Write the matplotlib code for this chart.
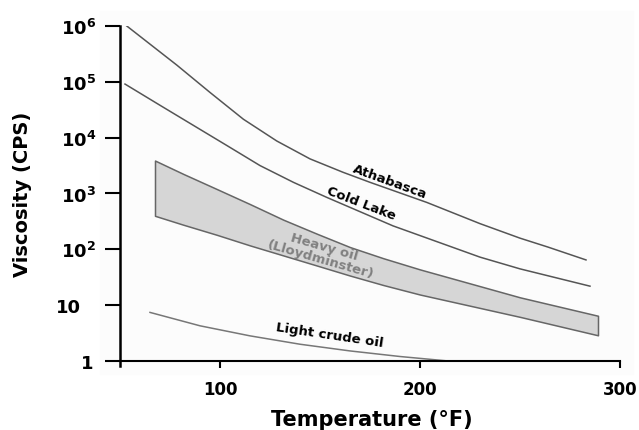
import numpy as np
import matplotlib.pyplot as plt
import matplotlib.transforms as mtransforms
from matplotlib.patches import Rectangle
from matplotlib.ticker import NullLocator

# values (temperature in F, log10 of viscosity in cP)
t_athabasca = [53.4, 78.4, 95, 111.7, 128.4, 145, 161.5, 175, 203.4, 230, 250, 264, 283]
log_athabasca = [6.0, 5.3, 4.81, 4.33, 3.94, 3.62, 3.38, 3.2, 2.84, 2.46, 2.2, 2.04, 1.81]

t_coldlake = [52.5, 70, 86.7, 103.4, 120, 136.7, 153.4, 186.5, 230, 250, 285]
log_coldlake = [4.96, 4.58, 4.22, 3.86, 3.5, 3.2, 2.93, 2.42, 1.86, 1.65, 1.34]

t_heavy = [67.5, 81.7, 98.4, 115, 131.7, 148.4, 165, 181.7, 200, 250, 289]
log_heavy_top = [3.59, 3.35, 3.08, 2.81, 2.53, 2.28, 2.04, 1.84, 1.64, 1.14, 0.81]
log_heavy_bot = [2.6, 2.44, 2.26, 2.07, 1.89, 1.71, 1.53, 1.36, 1.19, 0.79, 0.46]

t_light = [65, 90, 115, 140, 165, 190, 214]
log_light = [0.87, 0.63, 0.45, 0.3, 0.18, 0.08, 0.0]

ytick_vals = [1, 10, 1e2, 1e3, 1e4, 1e5, 1e6]
ytick_labels = ['1', '10', r'$\mathbf{10^2}$', r'$\mathbf{10^3}$', r'$\mathbf{10^4}$',
                r'$\mathbf{10^5}$', r'$\mathbf{10^6}$']
xtick_vals = [100, 200, 300]

plt.rcParams['font.family'] = 'DejaVu Sans'
plt.rcParams['mathtext.fontset'] = 'dejavusans'

fig = plt.figure(figsize=(6.39, 4.31), dpi=100)
ax = fig.add_axes([120/639, 64/431, 500/639, 340/431])
ax.patch.set_alpha(0)
# faint backdrop behind the plot area
bg = Rectangle((100/639, 1-375/431), 533/639, 363/431, transform=fig.transFigure,
               color='#fcfcfc', zorder=-10)
fig.patches.append(bg)
ax.set_zorder(1)

line_col = '#555555'
ax.plot(t_athabasca, 10**np.array(log_athabasca), color=line_col, lw=1.1)
ax.plot(t_coldlake, 10**np.array(log_coldlake), color=line_col, lw=1.1)
ax.fill_between(t_heavy, 10**np.array(log_heavy_bot), 10**np.array(log_heavy_top),
                facecolor='#d6d6d6', edgecolor='#666666', lw=1.1)
ax.plot(t_light, 10**np.array(log_light), color='#777777', lw=1.1)

ax.set_yscale('log')
ax.set_xlim(50, 300)
ax.set_ylim(10**-0.09, 1e6)
ax.yaxis.set_minor_locator(NullLocator())
ax.set_yticks(ytick_vals)
ax.set_yticklabels(ytick_labels)
ax.set_xticks(xtick_vals)

ax.spines['top'].set_visible(False)
ax.spines['right'].set_visible(False)
ax.spines['bottom'].set_position(('data', 1))
ax.spines['left'].set_linewidth(1.8)
ax.spines['bottom'].set_linewidth(1.5)

ax.tick_params(axis='y', length=11, width=1.5, pad=6, labelsize=13)
ax.tick_params(axis='x', length=5, width=1.5, pad=9, labelsize=12)
for lab in ax.get_xticklabels() + ax.get_yticklabels():
    lab.set_fontweight('bold')

# the "10" and "1" labels sit further left in the original
shifts = {'10': -15, '1': -3}
for lab in ax.get_yticklabels():
    dx = shifts.get(lab.get_text())
    if dx:
        lab.set_transform(lab.get_transform() +
                          mtransforms.ScaledTranslation(dx/100, 0, fig.dpi_scale_trans))

fig.text(372/639, 1-420/431, 'Temperature (°F)', fontsize=15, fontweight='bold',
         ha='center', va='center')
fig.text(23/639, 1-194/431, 'Viscosity (CPS)', rotation=90, fontsize=14,
         fontweight='bold', ha='center', va='center')

ax.text(185, 10**3.23, 'Athabasca', rotation=-20, fontsize=9.5, fontweight='bold',
        ha='center', va='center')
ax.text(170.5, 10**2.83, 'Cold Lake', rotation=-21, fontsize=9.5, fontweight='bold',
        ha='center', va='center')
ax.text(151, 10**1.94, 'Heavy oil\n(Lloydminster)', rotation=-16, fontsize=9.5,
        fontweight='bold', color='#808080', ha='center', va='center',
        linespacing=0.95, multialignment='center')
ax.text(154.75, 10**0.47, 'Light crude oil', rotation=-8.5, fontsize=9.5,
        fontweight='bold', ha='center', va='center')

plt.savefig('out.png', dpi=100)
